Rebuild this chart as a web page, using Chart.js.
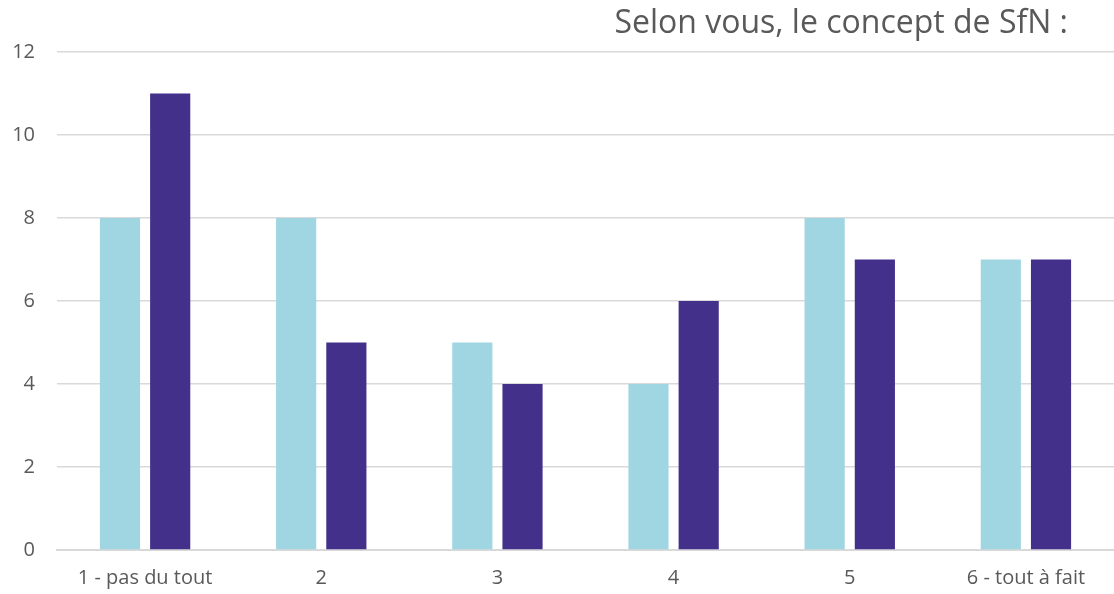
<!DOCTYPE html>
<html>
<head>
<meta charset="utf-8">
<script src="https://cdn.jsdelivr.net/npm/chart.js@4"></script>
<style>
  html, body { margin: 0; padding: 0; background: #fff; }
  #wrap { width: 1114px; height: 594px; }
</style>
</head>
<body>
<div id="wrap"><canvas id="myChart"></canvas></div>
<script>
var categories = ["1 - pas du tout", "2", "3", "4", "5", "6 - tout à fait"];
var seriesA = [8, 8, 5, 4, 8, 7];
var seriesB = [11, 5, 4, 6, 7, 7];
var yTicks = [0, 2, 4, 6, 8, 10, 12];
var titleText = "Selon vous, le concept de SfN :";

Chart.defaults.font.family = "'Open Sans', 'Liberation Sans', sans-serif";
Chart.defaults.font.size = 20;
Chart.defaults.color = "#595959";

// title drawn right aligned, above the plot
var titlePlugin = {
  id: "topTitle",
  afterDraw: function(chart) {
    var ctx = chart.ctx;
    ctx.save();
    ctx.font = "32px 'Open Sans', 'Liberation Sans', sans-serif";
    ctx.fillStyle = "#595959";
    ctx.textAlign = "right";
    ctx.textBaseline = "middle";
    ctx.fillText(titleText, 1068, 24);
    ctx.restore();
  }
};

new Chart("myChart", {
  type: "bar",
  data: {
    labels: categories,
    datasets: [{
      data: seriesA,
      backgroundColor: "#A0D6E2",
      categoryPercentage: 0.57,
      barPercentage: 0.8
    }, {
      data: seriesB,
      backgroundColor: "#43308A",
      categoryPercentage: 0.57,
      barPercentage: 0.8
    }]
  },
  options: {
    responsive: true,
    maintainAspectRatio: false,
    animation: false,
    layout: { padding: { top: 52, right: 0, left: 0, bottom: 0 } },
    plugins: {
      legend: { display: false },
      tooltip: { enabled: false }
    },
    scales: {
      x: {
        grid: { display: false, drawTicks: false },
        border: { color: "#D9D9D9", width: 2 },
        ticks: { padding: 16, maxRotation: 0 },
        afterFit: function(s) { s.height = 44; }
      },
      y: {
        min: 0,
        max: 12,
        afterBuildTicks: function(s) { s.ticks = yTicks.map(function(v) { return { value: v }; }); },
        grid: { color: "#D9D9D9", lineWidth: 1.5, drawTicks: false },
        border: { display: false },
        ticks: { padding: 22 },
        afterFit: function(s) { s.width = 57; }
      }
    }
  },
  plugins: [titlePlugin]
});
</script>
</body>
</html>
